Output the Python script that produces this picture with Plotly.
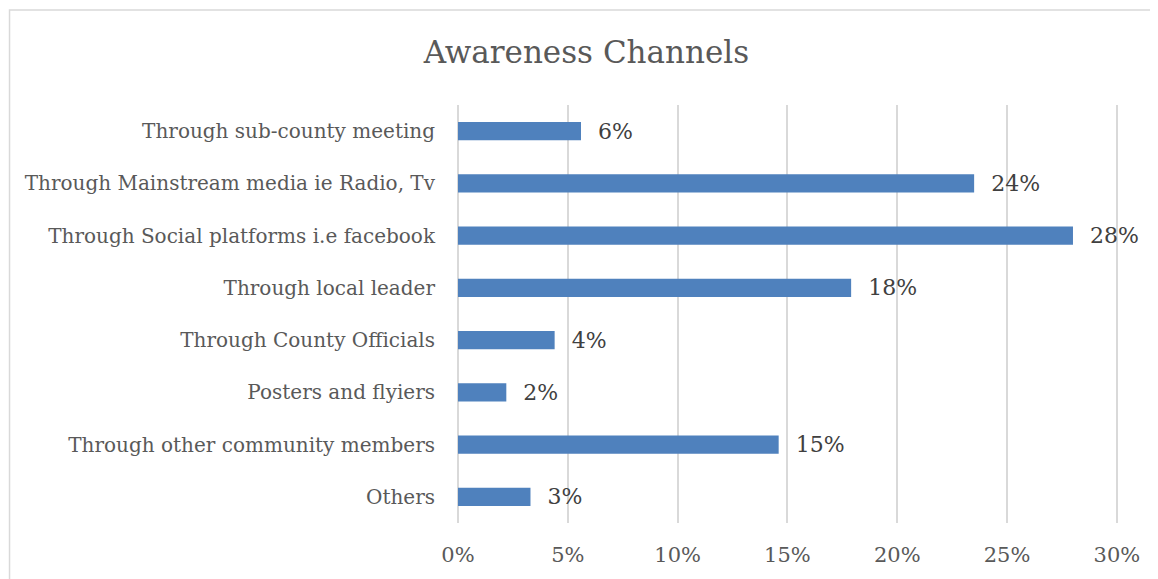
import plotly.graph_objects as go

categories = [
    "Through sub-county meeting",
    "Through Mainstream media ie Radio, Tv",
    "Through Social platforms i.e facebook",
    "Through local leader",
    "Through County Officials",
    "Posters and flyiers",
    "Through other community members",
    "Others",
]
values = [5.6, 23.5, 28.0, 17.9, 4.4, 2.2, 14.6, 3.3]
tick_vals = [0, 5, 10, 15, 20, 25, 30]
tick_text = ["0%", "5%", "10%", "15%", "20%", "25%", "30%"]

FONT = "DejaVu Serif"
GRAY = "#595959"

fig = go.Figure(go.Bar(
    y=categories,
    x=values,
    orientation="h",
    marker=dict(color="#4F81BD", line=dict(color="#4F81BD", width=0)),
    width=0.35,
    texttemplate="  %{x:.0f}%",
    textposition="outside",
    constraintext="none",
    cliponaxis=False,
    textfont=dict(family=FONT, size=22, color="#404040"),
))

fig.update_layout(
    width=1150, height=571,
    paper_bgcolor="white", plot_bgcolor="white",
    margin=dict(l=450, r=40, t=97, b=54),
    showlegend=False,
    title=dict(text="Awareness Channels", x=0.503, xanchor="center",
               y=0.923, yanchor="middle",
               font=dict(family=FONT, size=31, color=GRAY)),
    xaxis=dict(range=[0, 30.05], tickvals=tick_vals, ticktext=tick_text,
               showgrid=True, gridcolor="#D9D9D9", gridwidth=1.5,
               zeroline=True, zerolinecolor="#D9D9D9", zerolinewidth=1.5,
               showline=False, ticks="",
               ticklabelstandoff=17,
               tickfont=dict(family=FONT, size=21, color=GRAY)),
    yaxis=dict(categoryorder="array", categoryarray=categories[::-1],
               showgrid=False, showline=False, ticks="",
               ticklabelstandoff=22,
               tickfont=dict(family=FONT, size=20, color=GRAY)),
    shapes=[dict(type="rect", xref="paper", yref="paper",
                 x0=-0.6795, x1=1.3, y0=-0.4, y1=1.2275,
                 line=dict(color="#D9D9D9", width=1.5), layer="below")],
)

fig.write_html("out.html")
